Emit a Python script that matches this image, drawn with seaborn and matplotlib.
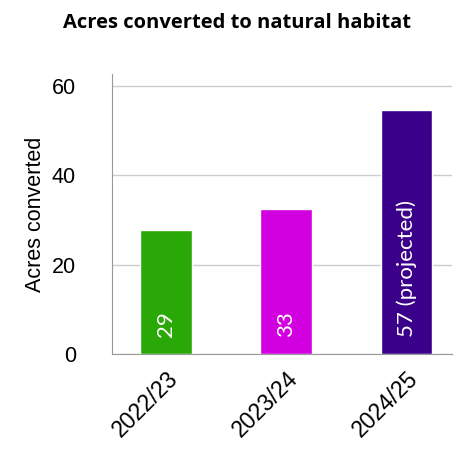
import pandas as pd
import numpy as np
from matplotlib import pyplot as plt
import seaborn as sns

years = ["2022/23", "2023/24", "2024/25"]
acres = [27.8, 32.5, 54.6]
bar_labels = ["29", "33", "57 (projected)"]
colors = ["#2aa808", "#d200e0", "#3a0089"]

data = pd.DataFrame({"year": years, "acres": acres})

sns.set_style("white")
plt.rcParams['font.family'] = ['Liberation Sans', 'DejaVu Sans']
plt.rcParams['text.color'] = 'black'
plt.rcParams['xtick.color'] = 'black'
plt.rcParams['ytick.color'] = 'black'
plt.rcParams['axes.labelcolor'] = 'black'

fig = plt.figure(figsize=(4.74, 4.5), dpi=100)
ax = fig.add_axes([0.236, 0.2127, 0.718, 0.623])

sns.barplot(data=data, x="year", y="acres", hue="year", palette=colors,
            width=0.43, saturation=1, legend=False, ax=ax, zorder=3)

ax.set_ylim(0, 62.6)
ax.set_xlim(-0.45, 2.38)
ax.set_yticks([0, 20, 40, 60])
ax.yaxis.grid(True, color="#cccccc", linewidth=1, zorder=0)
ax.set_axisbelow(True)

for s in ["top", "right"]:
    ax.spines[s].set_visible(False)
ax.spines["left"].set_color("#999999")
ax.spines["bottom"].set_color("#999999")

ax.tick_params(axis="y", length=0, labelsize=15.5, pad=26)
ax.tick_params(axis="x", length=0, labelsize=16.5, pad=9)
plt.setp(ax.get_xticklabels(), rotation=45, ha="right", rotation_mode="anchor")

ax.set_xlabel("")
ax.set_ylabel("Acres converted", fontsize=15.5, labelpad=4)

for i, lab in enumerate(bar_labels):
    ax.text(i, 3.8, lab, rotation=90, ha="center", va="bottom",
            color="white", fontsize=16, family=["Lato", "DejaVu Sans"], zorder=4)

fig.suptitle("Acres converted to natural habitat", y=0.972, fontsize=14.5,
             fontweight="bold", family=["Open Sans", "DejaVu Sans"])

fig.savefig("out.png", dpi=100)
